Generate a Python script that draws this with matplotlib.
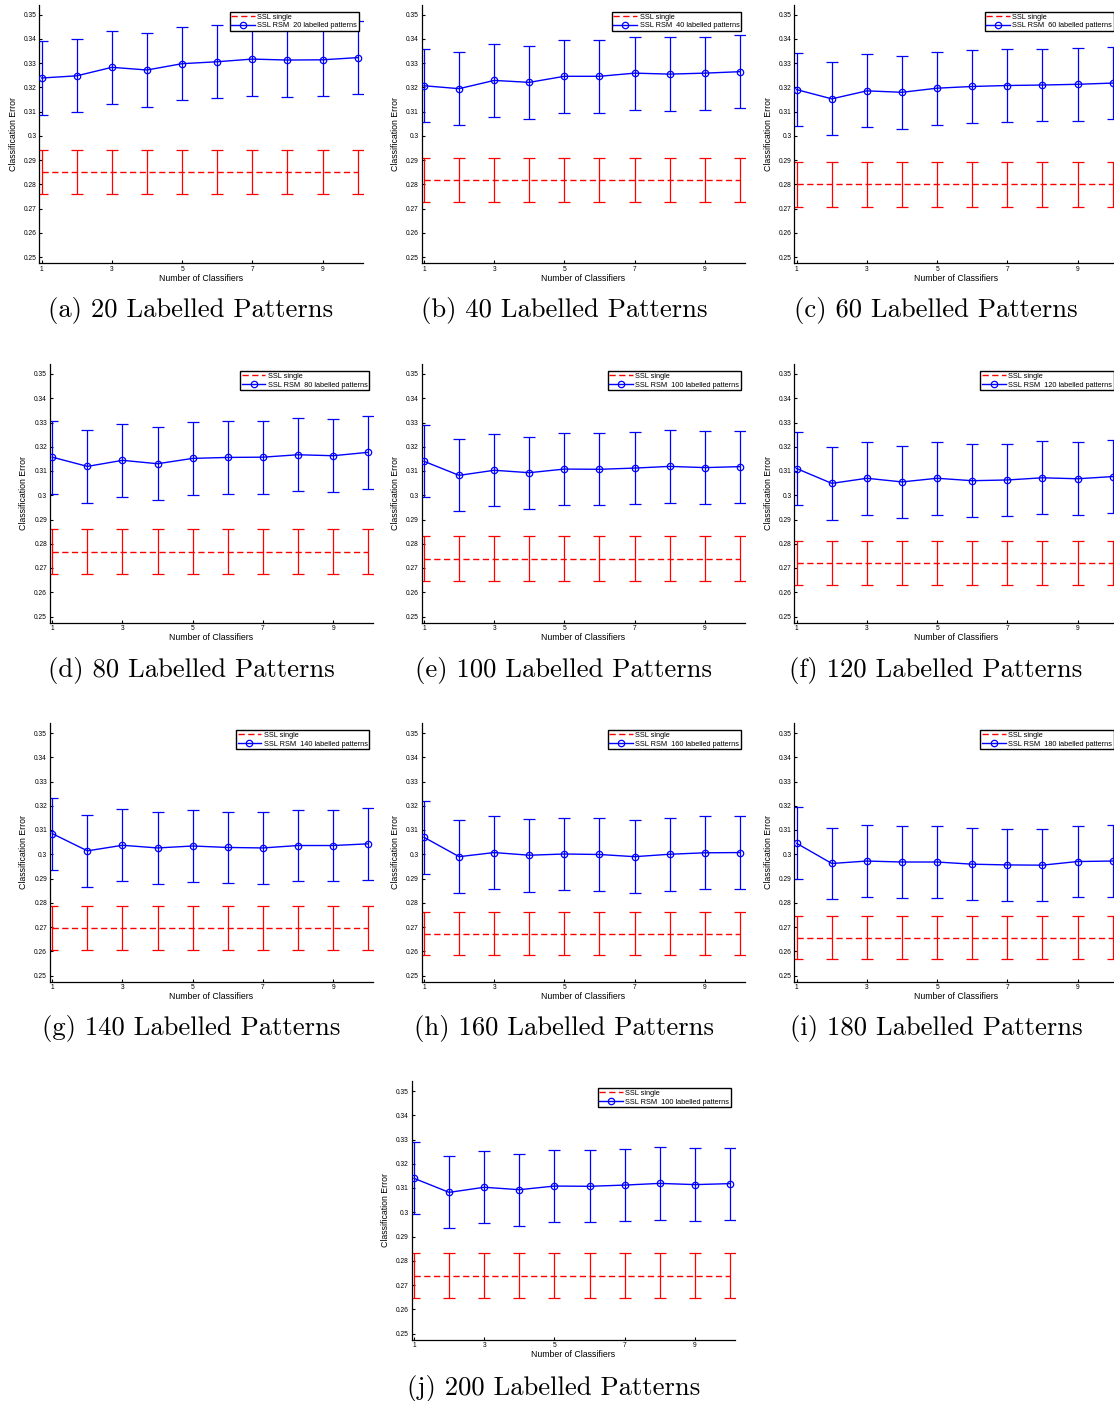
import numpy as np
import matplotlib
matplotlib.use("Agg")
import matplotlib.pyplot as plt

# Number of classifiers in the ensemble
n_classifiers = [1, 2, 3, 4, 5, 6, 7, 8, 9, 10]

# Panel captions and the labelled-pattern counts shown in each legend
panel_tags = ["a", "b", "c", "d", "e", "f", "g", "h", "i", "j"]
caption_counts = [20, 40, 60, 80, 100, 120, 140, 160, 180, 200]
legend_counts = [20, 40, 60, 80, 100, 120, 140, 160, 180, 100]

# SSL RSM mean classification error per panel
rsm_mean_20 = [0.3239, 0.3248, 0.3283, 0.3272, 0.3298, 0.3306, 0.3317, 0.3313, 0.3314, 0.3323]
rsm_mean_40 = [0.3207, 0.3195, 0.3229, 0.3221, 0.3246, 0.3246, 0.3259, 0.3255, 0.3259, 0.3265]
rsm_mean_60 = [0.3191, 0.3153, 0.3186, 0.3180, 0.3197, 0.3204, 0.3208, 0.3210, 0.3213, 0.3218]
rsm_mean_80 = [0.3157, 0.3119, 0.3144, 0.3130, 0.3152, 0.3156, 0.3157, 0.3167, 0.3163, 0.3177]
rsm_mean_100 = [0.3140, 0.3082, 0.3103, 0.3093, 0.3108, 0.3107, 0.3112, 0.3119, 0.3114, 0.3118]
rsm_mean_120 = [0.3110, 0.3049, 0.3070, 0.3055, 0.3070, 0.3060, 0.3063, 0.3072, 0.3068, 0.3077]
rsm_mean_140 = [0.3085, 0.3014, 0.3037, 0.3026, 0.3034, 0.3028, 0.3026, 0.3036, 0.3036, 0.3043]
rsm_mean_160 = [0.3070, 0.2990, 0.3007, 0.2996, 0.3001, 0.2999, 0.2990, 0.3000, 0.3006, 0.3007]
rsm_mean_180 = [0.3045, 0.2962, 0.2972, 0.2968, 0.2968, 0.2959, 0.2956, 0.2955, 0.2970, 0.2972]
rsm_mean_200 = [0.3140, 0.3082, 0.3103, 0.3093, 0.3108, 0.3107, 0.3112, 0.3119, 0.3114, 0.3118]

# SSL RSM error-bar half widths per panel
rsm_err = [0.0151, 0.0151, 0.0150, 0.0150, 0.0149, 0.0150, 0.0148, 0.0150, 0.0148, 0.0149]

# SSL single classifier error (mean and half width) per panel
single_mean = [0.2851, 0.2819, 0.2800, 0.2767, 0.2739, 0.2721, 0.2697, 0.2672, 0.2656, 0.2739]
single_err = [0.0092, 0.0092, 0.0091, 0.0092, 0.0091, 0.0091, 0.0091, 0.0089, 0.0090, 0.0091]

rsm_means = [rsm_mean_20, rsm_mean_40, rsm_mean_60, rsm_mean_80, rsm_mean_100,
             rsm_mean_120, rsm_mean_140, rsm_mean_160, rsm_mean_180, rsm_mean_200]

# ---- layout (pixel based) ----
W, H = 1114, 1401
PX_PER_X = 35.1        # pixels per classifier step
PX_PER_Y = 24.25       # pixels per 0.01 of error
XLIM = (0.93, 10.14)
YLIM = (0.2475, 0.354)

# pixel position of x=1 and of y=0.35 for every panel
x_one_px = [41.7, 424.0, 796.7, 52.3, 424.0, 796.7, 52.3, 424.0, 796.7, 414.0]
y_top_px = [14.7, 14.7, 14.7, 374.0, 374.0, 374.0, 733.0, 733.0, 733.0, 1091.0]
caption_x = [191, 564, 936, 191, 564, 936, 191, 564, 936, 554]
caption_y = [311, 311, 311, 670, 670, 670, 1029, 1029, 1029, 1388]

SANS = "Liberation Sans"

fig = plt.figure(figsize=(W / 100, H / 100), dpi=100)
fig.patch.set_facecolor("white")


def make_axes(x1, y35):
    left = x1 - (1 - XLIM[0]) * PX_PER_X
    width = (XLIM[1] - XLIM[0]) * PX_PER_X
    top = y35 - (YLIM[1] - 0.35) * 100 * PX_PER_Y
    bottom = y35 + (0.35 - YLIM[0]) * 100 * PX_PER_Y
    return fig.add_axes([left / W, 1 - bottom / H, width / W, (bottom - top) / H])


for i in range(10):
    ax = make_axes(x_one_px[i], y_top_px[i])
    ax.set_xlim(*XLIM)
    ax.set_ylim(*YLIM)

    single_vals = np.full(len(n_classifiers), single_mean[i])
    ax.errorbar(n_classifiers, single_vals, yerr=single_err[i], fmt="none",
                ecolor="red", elinewidth=0.9, capsize=4, capthick=0.9, zorder=2)
    l_single, = ax.plot(n_classifiers, single_vals, color="red", lw=1.0,
                        linestyle=(0, (4.5, 2.5)), zorder=3)

    ax.errorbar(n_classifiers, rsm_means[i], yerr=rsm_err[i], fmt="none",
                ecolor="blue", elinewidth=0.9, capsize=4, capthick=0.9, zorder=2)
    l_rsm, = ax.plot(n_classifiers, rsm_means[i], color="blue", lw=1.0,
                     marker="o", markersize=4.6, markerfacecolor="none",
                     markeredgecolor="blue", markeredgewidth=0.9, zorder=3)

    leg = ax.legend([l_single, l_rsm],
                    ["SSL single", f"SSL RSM  {legend_counts[i]} labelled patterns"],
                    loc="upper right",
                    bbox_to_anchor=(1 - 3.7 / 323.3, 1 - 7 / 258.6),
                    borderaxespad=0, fancybox=False, framealpha=1,
                    edgecolor="black", prop={"family": SANS, "size": 5.3},
                    handlelength=3.2, handletextpad=0.35, borderpad=0.22,
                    labelspacing=0.2)
    leg.get_frame().set_linewidth(1.0)
    leg.set_zorder(5)

    for side in ("top", "right"):
        ax.spines[side].set_visible(False)
    for side in ("left", "bottom"):
        ax.spines[side].set_linewidth(0.9)

    ax.set_xticks([1, 3, 5, 7, 9])
    ax.set_xticklabels(["1", "3", "5", "7", "9"])
    yt = [0.25, 0.26, 0.27, 0.28, 0.29, 0.30, 0.31, 0.32, 0.33, 0.34, 0.35]
    ax.set_yticks(yt)
    ax.set_yticklabels(["0.25", "0.26", "0.27", "0.28", "0.29", "0.3",
                        "0.31", "0.32", "0.33", "0.34", "0.35"])
    ax.tick_params(direction="in", length=2.5, width=0.8, pad=2,
                   labelsize=4.8, top=False, right=False)
    for t in ax.get_xticklabels() + ax.get_yticklabels():
        t.set_family(SANS)

    ax.set_xlabel("Number of Classifiers", family=SANS, fontsize=6.3)
    ax.set_ylabel("Classification Error", family=SANS, fontsize=6.3)
    ax.xaxis.set_label_coords(0.5, -0.058)
    ax.yaxis.set_label_coords(-0.08, 0.5)
    ax.xaxis.label.set_va("center")
    ax.yaxis.label.set_va("center")

    fig.text(caption_x[i] / W, 1 - caption_y[i] / H,
             f"({panel_tags[i]}) {caption_counts[i]} Labelled Patterns",
             family="cmr10", fontsize=19.2, ha="center", va="center")

fig.savefig("out.png", dpi=100, facecolor="white")
